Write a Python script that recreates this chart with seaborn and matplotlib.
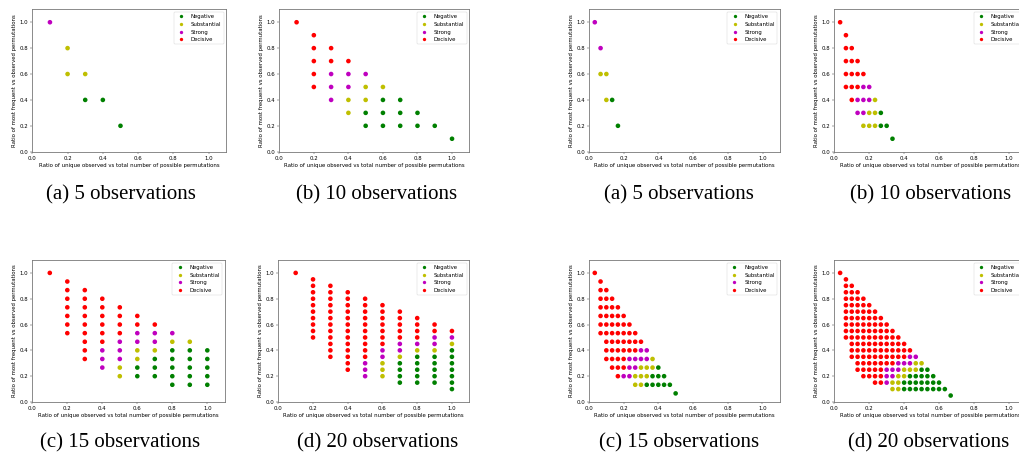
import matplotlib
matplotlib.use("Agg")
import matplotlib.pyplot as plt
from matplotlib.lines import Line2D
import pandas as pd
import seaborn as sns

# ---------------- data ----------------
# Category codes: N = Negative, S = Substantial, M = Strong, D = Decisive
CATEGORIES = ["Negative", "Substantial", "Strong", "Decisive"]
CODE = {"N": "Negative", "S": "Substantial", "M": "Strong", "D": "Decisive"}
PALETTE = {"Negative": "g", "Substantial": "y", "Strong": "m", "Decisive": "r"}

# each panel: rows as  y_numerator: (first x_numerator, category per consecutive x step)
left_5 = {5: (1, "M"), 4: (2, "S"), 3: (2, "SS"), 2: (3, "NN"), 1: (5, "N")}
left_10 = {10: (1, "D"), 9: (2, "D"), 8: (2, "DD"), 7: (2, "DDD"), 6: (2, "DMMM"),
           5: (2, "DMMSS"), 4: (3, "MSSNN"), 3: (4, "SNNNN"), 2: (5, "NNNNN"), 1: (10, "N")}
left_15 = {15: (1, "D"), 14: (2, "D"), 13: (2, "DD"), 12: (2, "DDD"), 11: (2, "DDDD"),
           10: (2, "DDDDD"), 9: (2, "DDDDDD"), 8: (2, "DDDDMMM"), 7: (3, "DDMMMSS"),
           6: (3, "DMMSSNNN"), 5: (3, "DMMSNNNN"), 4: (4, "MSNNNNN"), 3: (5, "SNNNNN"),
           2: (8, "NNN")}
left_20 = {20: (1, "D"), 19: (2, "D"), 18: (2, "DD"), 17: (2, "DDD"), 16: (2, "DDDD"),
           15: (2, "DDDDD"), 14: (2, "DDDDDD"), 13: (2, "DDDDDDD"), 12: (2, "DDDDDDDD"),
           11: (2, "DDDDDDDDD"), 10: (2, "DDDDDDDMM"), 9: (3, "DDDDMMMS"),
           8: (3, "DDDMMSSN"), 7: (3, "DDDMSNNN"), 6: (4, "DMSNNNN"), 5: (4, "DMSNNNN"),
           4: (5, "MSNNNN"), 3: (7, "NNNN"), 2: (10, "N")}
right_5 = {5: (1, "M"), 4: (2, "M"), 3: (2, "SS"), 2: (3, "SN"), 1: (5, "N")}
right_10 = {10: (1, "D"), 9: (2, "D"), 8: (2, "DD"), 7: (2, "DDD"), 6: (2, "DDDD"),
            5: (2, "DDDMM"), 4: (3, "DMMMS"), 3: (4, "MMSSN"), 2: (5, "SSSNN"), 1: (10, "N")}
right_15 = {15: (1, "D"), 14: (2, "D"), 13: (2, "DD"), 12: (2, "DDD"), 11: (2, "DDDD"),
            10: (2, "DDDDD"), 9: (2, "DDDDDD"), 8: (2, "DDDDDDD"), 7: (3, "DDDDDDD"),
            6: (3, "DDDDDDMM"), 5: (3, "DDDDMMMMS"), 4: (4, "DDDMMSSSN"),
            3: (5, "DMMSSSNNN"), 2: (8, "SSNNNNN"), 1: (15, "N")}
right_20 = {20: (1, "D"), 19: (2, "D"), 18: (2, "DD"), 17: (2, "DDD"), 16: (2, "DDDD"),
            15: (2, "DDDDD"), 14: (2, "DDDDDD"), 13: (2, "DDDDDDD"), 12: (2, "DDDDDDDD"),
            11: (2, "DDDDDDDDD"), 10: (2, "DDDDDDDDDD"), 9: (3, "DDDDDDDDDD"),
            8: (3, "DDDDDDDDDDD"), 7: (3, "DDDDDDDDDDMM"), 6: (4, "DDDDDDDMMMSS"),
            5: (4, "DDDDDMMMSSSNN"), 4: (5, "DDDDMMSSNNNNN"), 3: (7, "DDMSSNNNNNNN"),
            2: (10, "SSNNNNNNNN"), 1: (20, "N")}

captions = ["(a) 5 observations", "(b) 10 observations",
            "(c) 15 observations", "(d) 20 observations"]
XLABEL = "Ratio of unique observed vs total number of possible permutations"
YLABEL = "Ratio of most frequent vs observed permutations"

# panel: (rows, x denominator, y denominator)
panels = [
    (left_5, 10, 5), (left_10, 10, 10), (right_5, 30, 5), (right_10, 30, 10),
    (left_15, 10, 15), (left_20, 10, 20), (right_15, 30, 15), (right_20, 30, 20),
]


def to_frame(rows, xden, yden):
    recs = []
    for yn, (x0, codes) in rows.items():
        for i, c in enumerate(codes):
            recs.append({"x": (x0 + i) / xden, "y": yn / yden, "cat": CODE[c]})
    return pd.DataFrame(recs)


# ---------------- layout (pixels) ----------------
W, H = 1020, 459
fig = plt.figure(figsize=(W / 100, H / 100), dpi=100)

# left, bottom(from top), width, height
rects = [
    (32.3, 151.7, 194, 142.4), (279.3, 151.7, 190, 142.4),
    (589, 151.7, 191, 142.4), (834.3, 151.7, 192, 142.4),
    (32.3, 402, 192.5, 142), (278.3, 402, 191, 142),
    (589, 402, 190.6, 142), (834.3, 402, 192, 142),
]
cap_pos = [(121, 195), (377, 195), (679, 195), (931, 195),
           (120, 443), (378, 443), (679, 443), (929, 443)]
cap_text = [captions[0], captions[1], captions[0], captions[1],
            captions[2], captions[3], captions[2], captions[3]]

FS = 3.9
for (rows, xden, yden), (l, b, w, h) in zip(panels, rects):
    ax = fig.add_axes([l / W, 1 - b / H, w / W, h / H])
    df = to_frame(rows, xden, yden)
    sns.scatterplot(data=df, x="x", y="y", hue="cat", hue_order=CATEGORIES,
                    palette=PALETTE, s=11, linewidth=0, legend=False, ax=ax)
    ax.set_xlim(0, 1.1)
    ax.set_ylim(0, 1.1)
    ax.set_xticks([0, 0.2, 0.4, 0.6, 0.8, 1.0])
    ax.set_yticks([0, 0.2, 0.4, 0.6, 0.8, 1.0])
    ax.set_xlabel(XLABEL, fontsize=FS, labelpad=1.6)
    ax.set_ylabel(YLABEL, fontsize=FS, labelpad=1.6)
    ax.tick_params(labelsize=FS, length=1.4, width=0.35, pad=1.4, color="#444")
    for sp in ax.spines.values():
        sp.set_linewidth(0.6)
        sp.set_color("#777")
    handles = [Line2D([], [], linestyle="none", marker="o", markersize=2.4,
                      markerfacecolor=PALETTE[c], markeredgewidth=0, label=c)
               for c in CATEGORIES]
    leg = ax.legend(handles=handles, loc="upper right", fontsize=FS,
                    frameon=True, borderaxespad=0.5)
    leg.get_frame().set_linewidth(0.35)

for (x, y), t in zip(cap_pos, cap_text):
    fig.text(x / W, 1 - y / H, t, ha="center", va="center",
             fontsize=15, family="Liberation Serif")

fig.savefig("out.png", dpi=100)
